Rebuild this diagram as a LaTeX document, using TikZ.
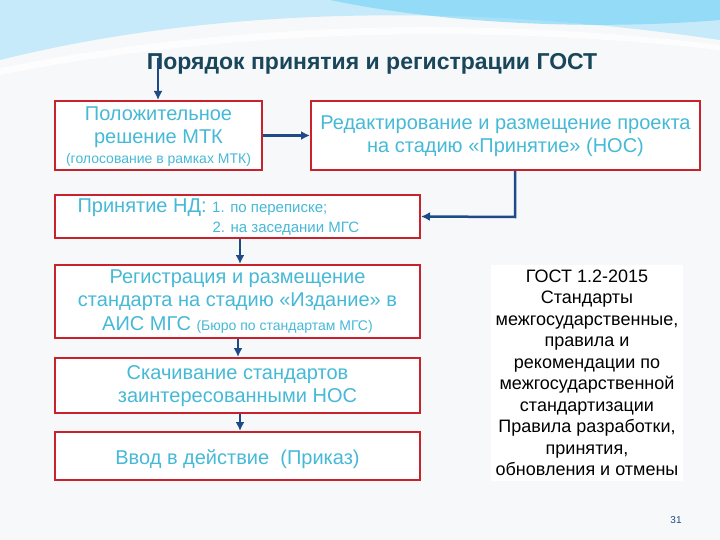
\documentclass[tikz,border=0pt]{standalone}
\usepackage{fontspec}
\setmainfont{Liberation Sans}
\usetikzlibrary{arrows.meta}
\definecolor{cy}{RGB}{70,185,215}
\definecolor{tt}{RGB}{25,70,90}
\definecolor{rb}{RGB}{200,35,45}
\definecolor{nv}{RGB}{30,75,135}
\definecolor{bg}{RGB}{246,248,250}
\begin{document}
\begin{tikzpicture}[x=1pt,y=-1pt,
 box/.style={draw=rb,line width=2pt,fill=white},
 bt/.style={text=cy,font=\fontsize{20}{23.5}\selectfont,align=center},
 arr/.style={draw=nv,line width=2.5pt,-{Latex[length=9pt,width=9pt]}}]
\fill[bg] (0,0) rectangle (720,540);
\useasboundingbox (0,0) rectangle (720,540);
% decorative swooshes
\fill[cyan!35,opacity=0.6] (0,60) .. controls (200,10) and (450,0) .. (720,40) -- (720,0) -- (0,0) -- cycle;
\fill[cyan!55,opacity=0.6] (330,0) .. controls (450,25) and (600,30) .. (720,20) -- (720,0) -- cycle;
\fill[white,opacity=0.8] (0,75) .. controls (200,35) and (450,20) .. (720,50) -- (720,45) .. controls (450,12) and (200,28) .. (0,68) -- cycle;
\node[font=\bfseries\fontsize{23}{26}\selectfont,text=tt] (title) at (372,64) {Порядок принятия и регистрации ГОСТ};
\node[box,minimum width=207,minimum height=69] (b1) at (158.5,135.5) {};
\node[bt,anchor=center] (t1) at (158.5,127) {Положительное\\решение МТК};
\node[text=cy,font=\fontsize{14}{16}\selectfont] (t1b) at (158.5,160) {(голосование в рамках МТК)};
\node[box,minimum width=389,minimum height=69] (b2) at (505.5,135.5) {};
\node[bt] (t2) at (505.5,136) {Редактирование и размещение проекта\\на стадию «Принятие» (НОС)};
\node[box,minimum width=365,minimum height=43] (b3) at (237.5,216.5) {};
\node[text=cy,anchor=west,font=\fontsize{20}{23}\selectfont] (t3) at (74,208) {Принятие НД: {\fontsize{15}{17}\selectfont 1. по переписке;}};
\node[text=cy,anchor=west,font=\fontsize{15}{17}\selectfont] (t3b) at (209,229) {2. на заседании МГС};
\node[box,minimum width=365,minimum height=73] (b4) at (237.5,301.5) {};
\node[bt] (t4) at (237.5,301.5) {Регистрация и размещение\\стандарта на стадию «Издание» в\\АИС МГС {\fontsize{14}{16}\selectfont (Бюро по стандартам МГС)}};
\node[box,minimum width=365,minimum height=55] (b5) at (237.5,385.5) {};
\node[bt] (t5) at (237.5,386) {Скачивание стандартов\\заинтересованными НОС};
\node[box,minimum width=365,minimum height=48] (b6) at (237.5,456) {};
\node[bt] (t6) at (237.5,459) {Ввод в действие\ \ (Приказ)};
\node[fill=white,align=center,font=\fontsize{18}{21.5}\selectfont,text=black,inner sep=5pt] (r) at (587,373) {ГОСТ 1.2-2015\\Стандарты\\межгосударственные,\\правила и\\рекомендации по\\межгосударственной\\стандартизации\\Правила разработки,\\принятия,\\обновления и отмены};
\node[text=nv,font=\fontsize{10}{11}\selectfont] (pg) at (676,520) {31};
\coordinate (c0) at (158,58);
\draw[arr] (c0) -- (b1.north -| c0);
\draw[arr] (b1.east) -- (b2.west);
\draw[arr] (b2.south -| 515,0) -- (515,217) -- (b3.east);
\draw[arr] (b3.south -| 240,0) -- (b4.north -| 240,0);
\draw[arr] (b4.south -| 238,0) -- (b5.north -| 238,0);
\draw[arr] (b5.south -| 240,0) -- (b6.north -| 240,0);
\end{tikzpicture}
\end{document}
